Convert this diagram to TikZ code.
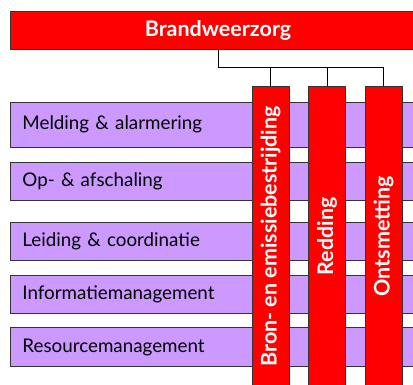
\documentclass[tikz,border=0pt]{standalone}
\usepackage{fontspec}
\setmainfont{Lato}
\usetikzlibrary{positioning}

\definecolor{taakrood}{HTML}{FF0000}
\definecolor{taakpaars}{HTML}{CC99FF}

\newcommand{\zuilfont}{\fontsize{21.5}{24}\selectfont\bfseries}

\tikzset{
    kop/.style = {draw=black!80, line width=0.8pt, fill=taakrood, text=white,
        font=\zuilfont, minimum width=416pt, minimum height=38pt},
    zuil/.style = {draw=black!80, line width=0.8pt, fill=taakrood,
        minimum width=37pt, minimum height=300pt, anchor=north},
    zuiltekst/.style = {rotate=90, text=white, font=\zuilfont},
    balk/.style = {draw=black!80, line width=0.8pt, fill=taakpaars, anchor=north west,
        font=\fontsize{18.8}{22}\selectfont, text width=396pt, inner xsep=12pt, align=left},
    lijn/.style = {black, line width=0.8pt}
}

\begin{document}
\begin{tikzpicture}[x=1pt, y=-1pt]
        \clip (0,0) rectangle (413,385);
        \useasboundingbox (0,0) rectangle (413,385);

        %the header over the full width
        \node[kop] (brandweer) at (218,30) {Brandweerzorg};

        %the horizontal process bars
        \node[balk, minimum height=45pt] (melding) at (10,101.7) {Melding \& alarmering};
        \node[balk, minimum height=38.3pt] (opaf) at (10,161.7) {Op- \& afschaling};
        \node[balk, minimum height=38.3pt] (leiding) at (10,221.7) {Leiding \& coordinatie};
        \node[balk, minimum height=37.7pt] (info) at (10,275) {Informatiemanagement};
        \node[balk, minimum height=38.7pt] (resource) at (10,327.3) {Resourcemanagement};

        %the vertical columns, text reads upwards
        \node[zuil] (bron) at (270.5,86) {};
        \node[zuiltekst] (bronTekst) at (bron.center) {Bron- en emissiebestrijding};
        \node[zuil] (redding) at (327,86) {};
        \node[zuiltekst] (reddingTekst) at (redding.center) {Redding};
        \node[zuil] (ontsmetting) at (383.5,86) {};
        \node[zuiltekst] (ontsmettingTekst) at (ontsmetting.center) {Ontsmetting};

        %connectors from the header to the columns
        \coordinate (bus) at (0,67);
        \draw[lijn] (brandweer.south) -- (brandweer.south |- bus) -- (ontsmetting.north |- bus) -- (ontsmetting.north);
        \draw[lijn] (bron.north |- bus) -- (bron.north);
        \draw[lijn] (redding.north |- bus) -- (redding.north);
\end{tikzpicture}
\end{document}
